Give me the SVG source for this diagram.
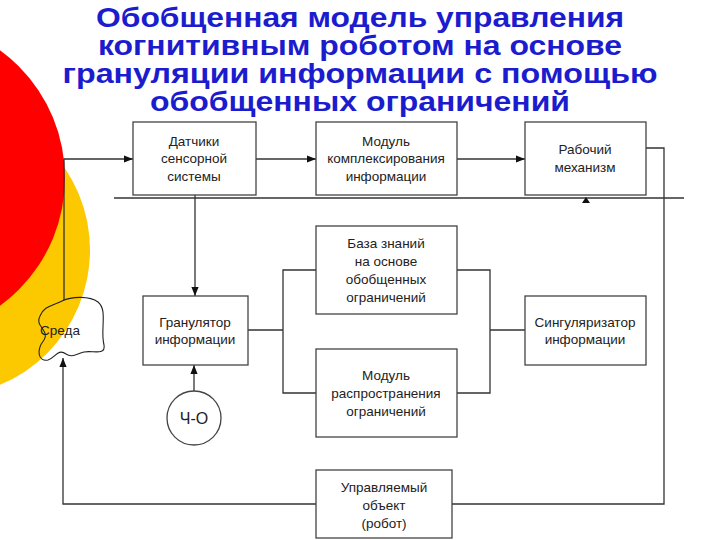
<svg xmlns="http://www.w3.org/2000/svg" width="720" height="540" viewBox="0 0 720 540">
<defs>
<style>
.b{fill:#fff;stroke:#444;stroke-width:1.3}
.t{font-family:"Liberation Sans",Arial,sans-serif;font-size:13.5px;fill:#222;text-anchor:middle}
.h{font-family:"Liberation Sans",Arial,sans-serif;font-size:28px;font-weight:bold;fill:#1c1ccf;text-anchor:middle}
.c{fill:none;stroke:#333;stroke-width:1.3}
</style>
<marker id="a" viewBox="0 0 10 10" refX="10" refY="5" markerWidth="7" markerHeight="7" orient="auto"><path d="M0,1L10,5L0,9z" fill="#111"/></marker>
</defs>
<rect width="720" height="540" fill="#fff"/>
<circle cx="-56" cy="250" r="146" fill="#fcc800"/>
<circle cx="-93" cy="178" r="158" fill="#f00"/>
<g id="title">
<text class="h" x="360" y="27" textLength="528" lengthAdjust="spacingAndGlyphs">Обобщенная модель управления</text>
<text class="h" x="360" y="55" textLength="524" lengthAdjust="spacingAndGlyphs">когнитивным роботом на основе</text>
<text class="h" x="360" y="83" textLength="595" lengthAdjust="spacingAndGlyphs">грануляции информации с помощью</text>
<text class="h" x="360" y="111" textLength="420" lengthAdjust="spacingAndGlyphs">обобщенных ограничений</text>
</g>
<g id="connectors">
<line class="c" x1="114" y1="198" x2="684" y2="198"/>
<path class="c" d="M256,159H316" marker-end="url(#a)"/>
<path class="c" d="M457,159H525" marker-end="url(#a)"/>
<path class="c" d="M646,148H664V504H452"/>
<path class="c" d="M316,504H63V358" marker-end="url(#a)"/>
<path class="c" d="M64,300V159H133" marker-end="url(#a)"/>
<path class="c" d="M195,195V296" marker-end="url(#a)"/>
<path class="c" d="M194,391V365" marker-end="url(#a)"/>
<path class="c" d="M248,330H283M316,270H283V393H316"/>
<path class="c" d="M457,270H490V393H457M490,330H525"/>
<path d="M582,203L586,197L590,203z" fill="#111"/>
</g>
<g id="sreda">
<path d="M62,301C72,296 90,296 98,302C108,310 100,330 104,345C106,356 92,350 84,352C76,354 72,358 66,354C58,348 55,358 48,360C38,362 36,350 44,340C50,330 34,326 40,316C44,306 52,306 62,301z" fill="none" stroke="#222" stroke-width="1.1"/>
<text class="t" x="60" y="335">Среда</text>
</g>
<g id="datchiki"><rect class="b" x="133" y="122" width="123" height="73"/>
<text class="t" x="194" y="146">Датчики</text><text class="t" x="194" y="163">сенсорной</text><text class="t" x="194" y="181">системы</text></g>
<g id="kompleks"><rect class="b" x="316" y="122" width="141" height="73"/>
<text class="t" x="386" y="146">Модуль</text><text class="t" x="386" y="163">комплексирования</text><text class="t" x="386" y="181">информации</text></g>
<g id="rabochiy"><rect class="b" x="525" y="122" width="121" height="73"/>
<text class="t" x="585" y="154">Рабочий</text><text class="t" x="585" y="172">механизм</text></g>
<g id="baza"><rect class="b" x="316" y="226" width="141" height="88"/>
<text class="t" x="386" y="248">База знаний</text><text class="t" x="386" y="266">на основе</text><text class="t" x="386" y="284">обобщенных</text><text class="t" x="386" y="302">ограничений</text></g>
<g id="granulator"><rect class="b" x="143" y="296" width="105" height="69"/>
<text class="t" x="195" y="327">Гранулятор</text><text class="t" x="195" y="344">информации</text></g>
<g id="singul"><rect class="b" x="525" y="296" width="121" height="69"/>
<text class="t" x="585" y="327">Сингуляризатор</text><text class="t" x="585" y="344">информации</text></g>
<g id="rasprostr"><rect class="b" x="316" y="349" width="141" height="88"/>
<text class="t" x="386" y="380">Модуль</text><text class="t" x="386" y="398">распространения</text><text class="t" x="386" y="416">ограничений</text></g>
<g id="robot"><rect class="b" x="316" y="470" width="136" height="68"/>
<text class="t" x="384" y="492">Управляемый</text><text class="t" x="384" y="510">объект</text><text class="t" x="384" y="528">(робот)</text></g>
<g id="cho"><circle cx="194" cy="418" r="27" class="b"/>
<text class="t" x="194" y="424" style="font-size:16px">Ч-О</text></g>
</svg>
